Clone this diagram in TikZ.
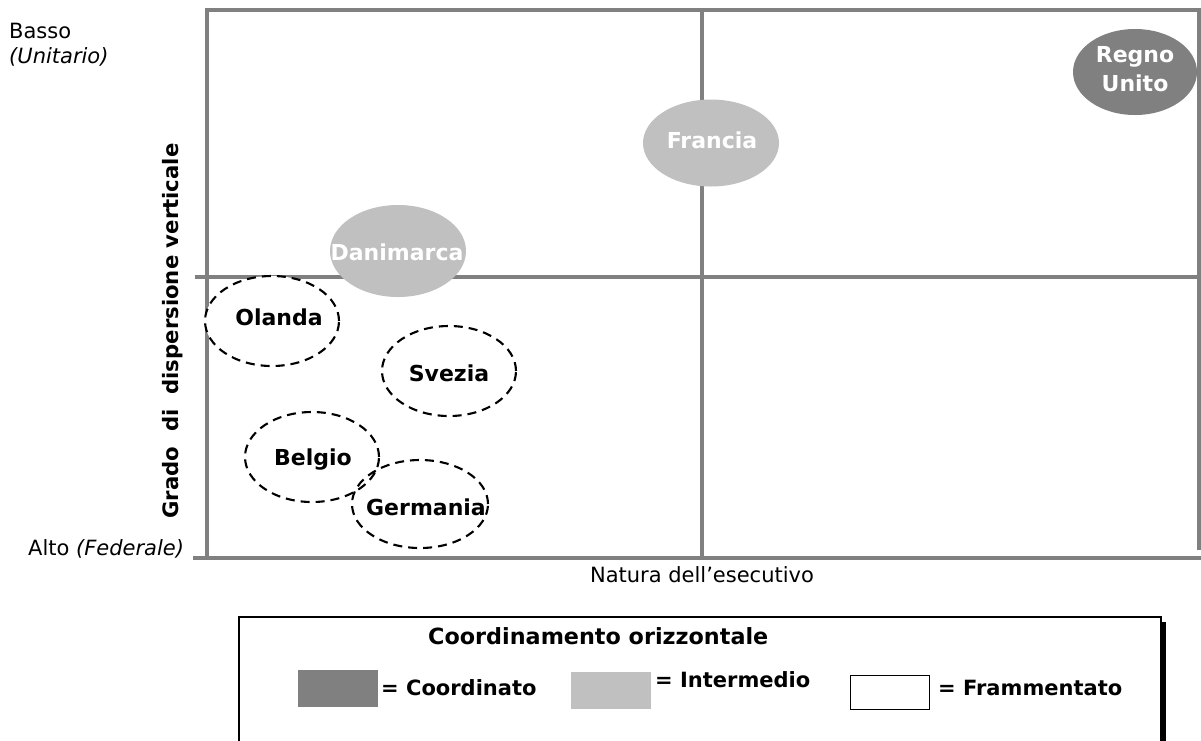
\documentclass[tikz,border=0pt]{standalone}
\usepackage{fontspec}
\setmainfont{DejaVu Sans}
\usetikzlibrary{shapes.geometric}
\definecolor{gridgray}{HTML}{808080}
\definecolor{darkfill}{HTML}{808080}
\definecolor{lightfill}{HTML}{C0C0C0}
\tikzset{
  gridline/.style={draw=gridgray, line width=3.5pt},
  blobshape/.style={ellipse, inner sep=0pt, outer sep=0pt},
  darkblob/.style={blobshape, fill=darkfill},
  lightblob/.style={blobshape, fill=lightfill},
  fragblob/.style={blobshape, draw=black, line width=2.1pt, dash pattern=on 9pt off 6pt},
  bloblabel/.style={inner sep=0pt, anchor=base, font=\fontsize{22}{31}\selectfont\bfseries},
  whitelabel/.style={bloblabel, text=white},
  regtext/.style={inner sep=0pt, font=\fontsize{21}{25}\selectfont},
  legtext/.style={inner sep=0pt, anchor=base west, font=\fontsize{21}{25}\selectfont\bfseries},
  swatch/.style={inner sep=0pt, minimum width=80pt, minimum height=37pt},
}
\begin{document}
\begin{tikzpicture}[x=1pt,y=-1pt]
\clip (0,0) rectangle (1201,740);
\fill[white] (0,0) rectangle (1201,740);

% grid / frame
\draw[gridline] (205,10) -- (1201,10);
\draw[gridline] (207,10) -- (207,560);
\draw[gridline] (1199,10) -- (1199,550);
\draw[gridline] (702,10) -- (702,556);
\draw[gridline] (195,277) -- (1201,277);
\draw[gridline] (193,558) -- (1201,558);

% axis texts
\node[regtext, anchor=base west] (basso) at (9,38) {Basso};
\node[regtext, anchor=base west] (unit) at (9,63) {\itshape (Unitario)};
\node[regtext, anchor=base west] (alto) at (28,555) {Alto \itshape(Federale)};
\node[regtext, anchor=base] (natura) at (702,582) {Natura dell’esecutivo};
\node[inner sep=0pt, anchor=base, rotate=90, font=\fontsize{21.2}{25}\selectfont\bfseries] (ylab) at (178,331) {Grado\ \ di\ \ dispersione verticale};

% filled blobs
\node[darkblob, minimum width=124pt, minimum height=86pt] (uk) at (1135,72) {};
\node[whitelabel] (ukt1) at (1135,62) {Regno};
\node[whitelabel] (ukt2) at (1135,91) {Unito};

\node[lightblob, minimum width=136pt, minimum height=87pt] (fr) at (711,143) {};
\node[whitelabel] (frt) at (712,148) {Francia};

\node[lightblob, minimum width=136pt, minimum height=92pt] (dk) at (398,251) {};
\node[whitelabel] (dkt) at (397,260) {Danimarca};

% fragmented blobs
\node[fragblob, fill=white, minimum width=134pt, minimum height=90pt] (nl) at (272,321) {};
\node[bloblabel] (nlt) at (279,325) {Olanda};

\node[fragblob, minimum width=134pt, minimum height=90pt] (se) at (449,371) {};
\node[bloblabel] (set) at (449,381) {Svezia};

\node[fragblob, minimum width=134pt, minimum height=90pt] (be) at (312,457) {};
\node[bloblabel] (bet) at (313,465) {Belgio};

\node[fragblob, minimum width=136pt, minimum height=88pt] (de) at (420,504) {};
\node[bloblabel] (det) at (426,515) {Germania};

% legend
\fill[black] (1161,622) rectangle (1166,745);
\draw[black, line width=1.5pt] (239,745) -- (239,617) -- (1161,617) -- (1161,745);
\node[legtext, font=\fontsize{22.3}{25}\selectfont\bfseries] (legtitle) at (428,644) {Coordinamento orizzontale};
\node[swatch, fill=darkfill, anchor=north west] (sw1) at (298,670) {};
\node[legtext] (lg1) at (381,695) {= Coordinato};
\node[swatch, fill=lightfill, anchor=north west] (sw2) at (571,672) {};
\node[legtext] (lg2) at (655,687) {= Intermedio};
\node[swatch, draw=black, line width=1.3pt, fill=white, anchor=north west, minimum width=79pt, minimum height=34pt] (sw3) at (850,675) {};
\node[legtext] (lg3) at (938,695) {= Frammentato};
\end{tikzpicture}
\end{document}
